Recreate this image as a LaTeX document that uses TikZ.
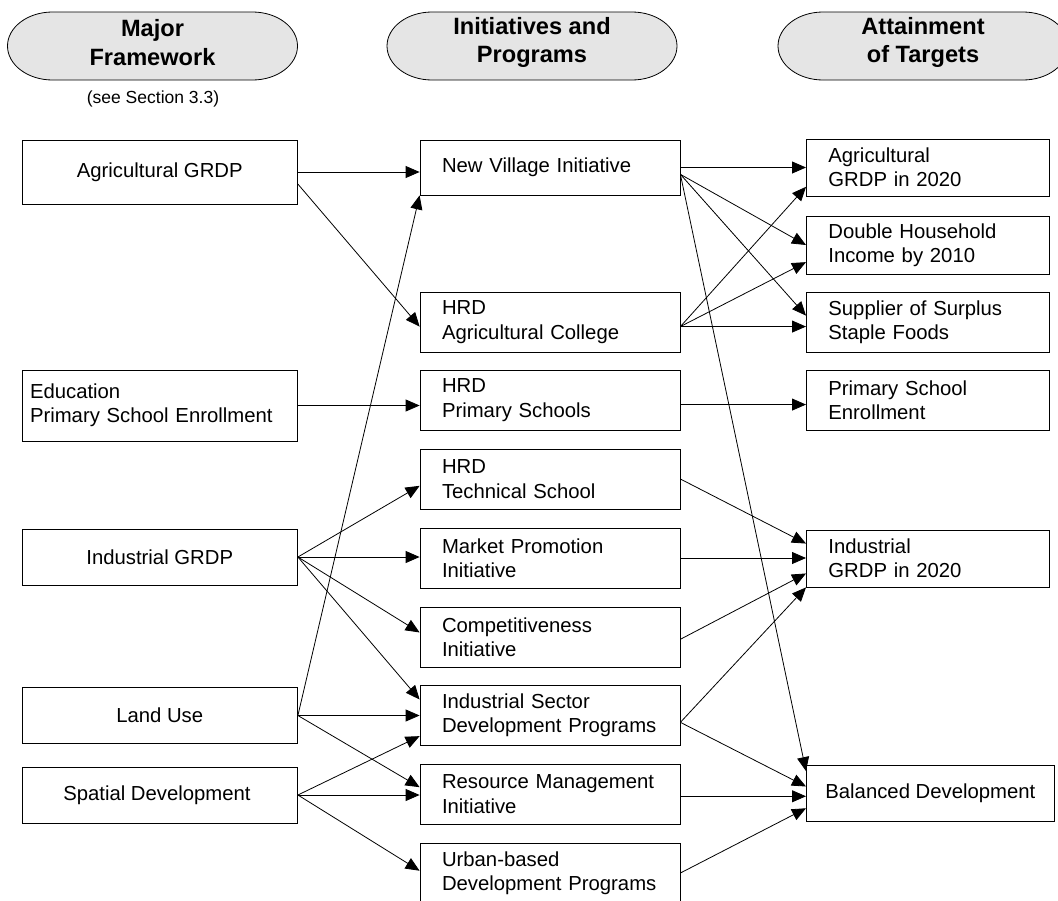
\documentclass[tikz,border=0pt]{standalone}
\usepackage{fontspec}
\setmainfont{Liberation Sans}
\usepackage{tikz}
\usetikzlibrary{arrows.meta}
\tikzset{
    box/.style={draw, line width=0.8pt, inner ysep=0pt, font=\fontsize{20.3}{24.3}\selectfont}, % 方框的通用样式
    left box/.style={box, minimum width=275.5pt, align=center}, % 左列
    mid box/.style={box, text width=216pt, inner xsep=22pt, align=left}, % 中列
    right box/.style={box, text width=199pt, inner xsep=22pt, align=left, anchor=west}, % 右列
    banner/.style={fill=black!10, draw, line width=0.8pt}, % 标题底框
    banner text/.style={font=\fontsize{23.6}{28.5}\selectfont\bfseries, align=center},
    link/.style={-{Triangle[length=14pt, width=12pt]}, line width=0.8pt} % 箭头
}

\begin{document}
\begin{tikzpicture}[x=1pt, y=-1pt]
    \useasboundingbox (0,0) rectangle (1058,900);

    % headers
    \filldraw[banner] (52.5,12) -- (252.5,12) arc[start angle=-90, end angle=90, x radius=45, y radius=34]
        -- (52.5,80) arc[start angle=90, end angle=270, x radius=45, y radius=34] -- cycle;
    \filldraw[banner] (432,12) -- (632,12) arc[start angle=-90, end angle=90, x radius=45, y radius=34]
        -- (432,80) arc[start angle=90, end angle=270, x radius=45, y radius=34] -- cycle;
    \filldraw[banner] (823,12) -- (1023,12) arc[start angle=-90, end angle=90, x radius=45, y radius=34]
        -- (823,80) arc[start angle=90, end angle=270, x radius=45, y radius=34] -- cycle;
    \node[banner text] (hmaj) at (152.5,42.5) {Major\\Framework};
    \node[banner text] (hini) at (532,42.5) {Initiatives and\\Programs};
    \node[banner text] (hatt) at (923,42.5) {Attainment\\of Targets};
    \node[font=\fontsize{17.5}{20}\selectfont] (hnote) at (153,99) {(see Section 3.3)};

    % left column
    \foreach \bname/\by/\bh/\btext in {
        lagri/172/64pt/{Agricultural GRDP},
        lind/557/56pt/{Industrial GRDP},
        lland/715.5/56pt/{Land Use},
        lspat/795/56pt/{Spatial Development}
    } {
        \node[left box, minimum height=\bh] (\bname) at (159.75,\by) {\btext};
    }
    \node[left box, text width=259.5pt, inner xsep=8pt, align=left, minimum height=71pt] (ledu) at (159.75,405.5) {Education\\Primary School Enrollment};

    % middle column
    \foreach \bname/\by/\bh/\btext in {
        mnv/167.5/55pt/{New Village Initiative},
        magri/322/60pt/{HRD\\Agricultural College},
        mprim/400/60pt/{HRD\\Primary Schools},
        mtech/479/60pt/{HRD\\Technical School},
        mmarket/558/60pt/{Market Promotion\\Initiative},
        mcomp/637/60pt/{Competitiveness\\Initiative},
        mind/715.5/60pt/{Industrial Sector\\Development Programs},
        mres/794/60pt/{Resource Management\\Initiative},
        murban/873/60pt/{Urban-based\\Development Programs}
    } {
        \node[mid box, minimum height=\bh] (\bname) at (550,\by) {\btext};
    }

    % right column
    \foreach \bname/\by/\bh/\btext in {
        ragri/167.5/57pt/{Agricultural\\GRDP in 2020},
        rdouble/245/58pt/{Double Household\\Income by 2010},
        rsupp/322/60pt/{Supplier of Surplus\\Staple Foods},
        rprim/400/60pt/{Primary School\\Enrollment},
        rind/558.5/57pt/{Industrial\\GRDP in 2020}
    } {
        \node[right box, minimum height=\bh] (\bname) at (806,\by) {\btext};
    }
    \node[box, anchor=west, minimum width=246pt, minimum height=56pt, inner xsep=19pt, align=left] (rbal) at (806,793) {Balanced Development};

    % left -> middle
    \draw[link] (lagri.east) -- (lagri.east -| mnv.west);
    \draw[link] (lagri.-5) -- (magri.182);
    \draw[link] (ledu.east) -- (ledu.east -| mprim.west);
    \foreach \tgt/\ang in {mtech/183, mcomp/178, mind/173}
        \draw[link] (lind.east) -- (\tgt.\ang);
    \draw[link] (lind.east) -- (lind.east -| mmarket.west);
    \draw[link] (lland.east) -- (mnv.south west);
    \draw[link] (lland.east) -- (lland.east -| mind.west);
    \draw[link] (lland.east) -- (mres.177.5);
    \draw[link] (lspat.east) -- (mind.189);
    \draw[link] (lspat.east) -- (lspat.east -| mres.west);
    \draw[link] (lspat.east) -- (murban.179);

    % middle -> right
    \draw[link] (mnv.east) -- (mnv.east -| ragri.west);
    \foreach \tgt/\ang in {rdouble/180, rsupp/177.5, rbal/170}
        \draw[link] (mnv.-3) -- (\tgt.\ang);
    \foreach \tgt/\ang in {ragri/189, rdouble/188}
        \draw[link] (magri.-2) -- (\tgt.\ang);
    \draw[link] (magri.-2) -- (magri.-2 -| rsupp.west);
    \draw[link] (mprim.-2.5) -- (mprim.-2.5 -| rprim.west);
    \draw[link] (mtech.east) -- (rind.173);
    \draw[link] (mmarket.east) -- (mmarket.east -| rind.west);
    \draw[link] (mcomp.-1) -- (rind.187);
    \draw[link] (mind.-3) -- (rind.south west);
    \draw[link] (mind.-3) -- (rbal.177);
    \draw[link] (mres.-1.5) -- (mres.-1.5 -| rbal.west);
    \draw[link] (murban.east) -- (rbal.187);
\end{tikzpicture}
\end{document}
